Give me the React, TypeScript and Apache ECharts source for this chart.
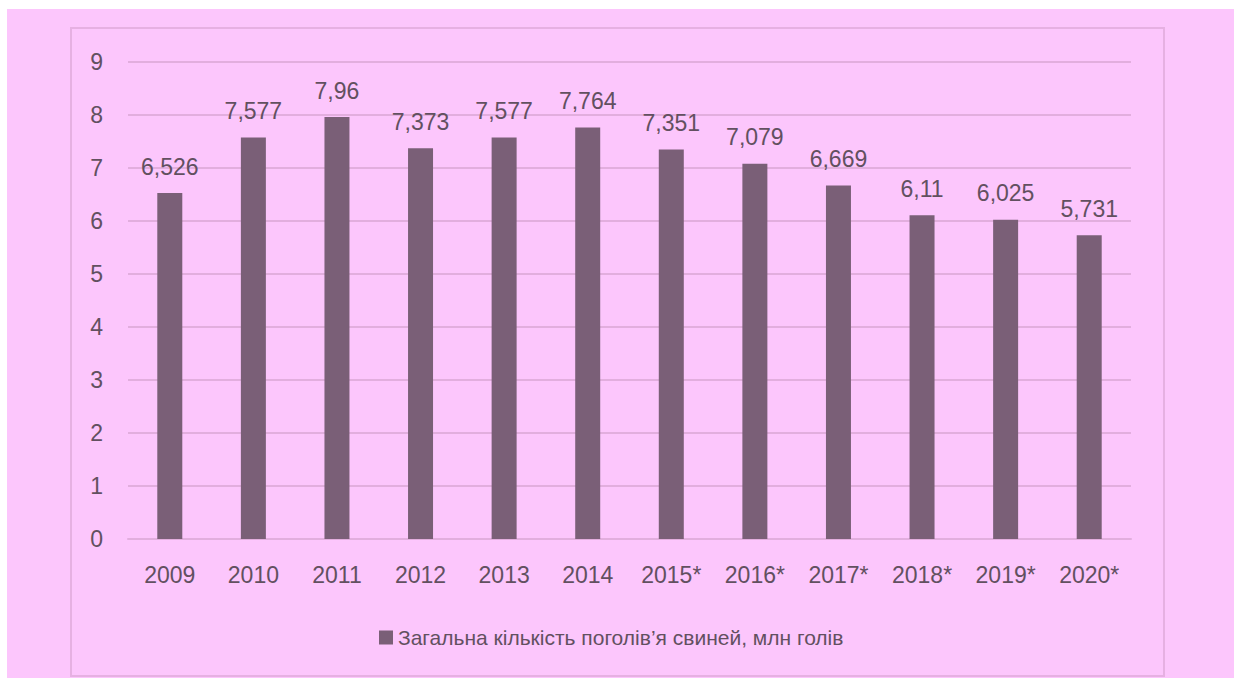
import React, { useEffect, useRef } from "react";
import * as echarts from "echarts";

const categories = ["2009", "2010", "2011", "2012", "2013", "2014", "2015*", "2016*", "2017*", "2018*", "2019*", "2020*"];
const values = [6.526, 7.577, 7.96, 7.373, 7.577, 7.764, 7.351, 7.079, 6.669, 6.11, 6.025, 5.731];
const valueLabels = ["6,526", "7,577", "7,96", "7,373", "7,577", "7,764", "7,351", "7,079", "6,669", "6,11", "6,025", "5,731"];
const seriesName = "Загальна кількість поголів’я свиней, млн голів";

const FONT = "'Liberation Sans Narrow', 'Arial Narrow', 'Liberation Sans', Arial, sans-serif";
const TEXT = "#625060";

export default function App() {
  const ref = useRef<HTMLDivElement>(null);
  useEffect(() => {
    document.body.style.margin = "0";
    const chart = echarts.init(ref.current!, null, { renderer: "svg" });
    chart.setOption({
      animation: false,
      backgroundColor: "#ffffff",
      graphic: [
        { type: "rect", z: -10, shape: { x: 7, y: 9, width: 1227, height: 669 }, style: { fill: "#fcc6fc" } },
        { type: "rect", z: -9, shape: { x: 71, y: 28, width: 1093, height: 648 }, style: { fill: "none", stroke: "#e6b0e2", lineWidth: 2 } },
      ],
      grid: { left: 128, right: 103, top: 62, bottom: 139 },
      legend: {
        top: 622,
        left: 374,
        itemWidth: 14,
        itemHeight: 14,
        icon: "rect",
        itemGap: 8,
        textStyle: { fontFamily: FONT, fontSize: 21, color: TEXT },
        data: [seriesName],
      },
      xAxis: {
        type: "category",
        data: categories,
        axisLine: { show: true, lineStyle: { color: "#e2aede", width: 2 } },
        axisTick: { show: false },
        axisLabel: { fontFamily: FONT, fontSize: 23, color: TEXT, margin: 24 },
      },
      yAxis: {
        type: "value",
        min: 0,
        max: 9,
        interval: 1,
        axisLine: { show: false },
        axisTick: { show: false },
        axisLabel: { fontFamily: FONT, fontSize: 23, color: TEXT, margin: 25 },
        splitLine: { lineStyle: { color: "#e2aede", width: 2 } },
      },
      series: [
        {
          name: seriesName,
          type: "bar",
          data: values,
          barWidth: 25,
          itemStyle: { color: "#7a5f77" },
          label: {
            show: true,
            position: "top",
            distance: 15,
            fontFamily: FONT,
            fontSize: 23,
            color: TEXT,
            formatter: (p: any) => valueLabels[p.dataIndex],
          },
        },
      ],
    });
    return () => chart.dispose();
  }, []);
  return <div ref={ref} style={{ width: 1234, height: 678 }} />;
}
